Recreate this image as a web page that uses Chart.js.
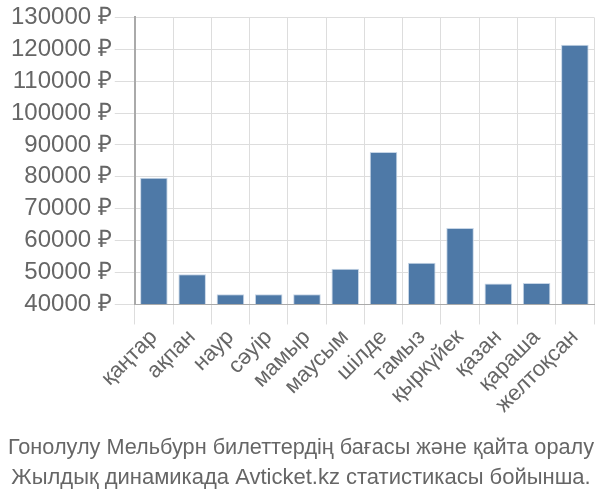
<!DOCTYPE html>
<html>
<head>
<meta charset="utf-8">
<script src="https://cdn.jsdelivr.net/npm/chart.js@4.4.0/dist/chart.umd.min.js"></script>
<style>
html,body{margin:0;padding:0;background:#fff;}
#wrap{width:600px;height:500px;}
</style>
</head>
<body>
<div id="wrap"><canvas id="c" width="600" height="500"></canvas></div>
<script>
const categories = ["қаңтар","ақпан","наур","сәуір","мамыр","маусым","шілде","тамыз","қыркүйек","қазан","қараша","желтоқсан"];
const prices = [79700, 49500, 43200, 43200, 43200, 51200, 87800, 53100, 64000, 46600, 46700, 121400];
const yTicks = [40000,50000,60000,70000,80000,90000,100000,110000,120000,130000];
const titleLines = ["Гонолулу Мельбурн билеттердің бағасы және қайта оралу","Жылдық динамикада Avticket.kz статистикасы бойынша."];

const font = "'Liberation Sans', Arial, sans-serif";
new Chart(document.getElementById('c'), {
  type: 'bar',
  data: {
    labels: categories,
    datasets: [{
      data: prices,
      backgroundColor: '#4e79a7',
      borderColor: '#c6d5e6',
      borderWidth: 1,
      base: 40000
    }]
  },
  options: {
    responsive: false,
    animation: false,
    layout: {padding: {left: 8, right: 6, top: 4, bottom: 7}},
    plugins: {
      legend: {display: false},
      tooltip: {enabled: false},
      title: {
        display: true,
        position: 'bottom',
        text: titleLines,
        color: '#666',
        font: {family: font, size: 22, weight: 'normal', lineHeight: 1.36},
        padding: {top: 15, bottom: 0}
      }
    },
    scales: {
      x: {
        grid: {color: '#ddd', lineWidth: 1, tickLength: 20, offset: true},
        border: {color: '#aaa'},
        ticks: {color: '#666', font: {family: font, size: 22}, maxRotation: 45, minRotation: 45, padding: 0, autoSkip: false}
      },
      y: {
        min: 40000,
        max: 130000,
        afterBuildTicks: (s) => { s.ticks = yTicks.map(v => ({value: v})); },
        grid: {color: '#ddd', lineWidth: 1, tickLength: 20},
        border: {color: '#aaa', width: 2},
        ticks: {color: '#666', font: {family: font, size: 24}, padding: 3, callback: v => v + ' ₽'}
      }
    }
  }
});
</script>
</body>
</html>
